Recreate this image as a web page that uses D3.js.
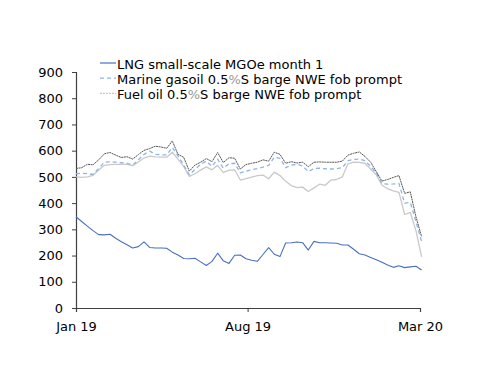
<!DOCTYPE html>
<html><head><meta charset="utf-8">
<script src="https://cdn.jsdelivr.net/npm/d3@7"></script>
<style>
body{margin:0;background:#fff;}
svg text{font-family:"DejaVu Sans",sans-serif;}
</style></head>
<body><svg id="c" width="500" height="386"></svg>
<script>
// weekly observations starting 1 Jan 2019
const startDate = "2019-01-01";
const seriesNames = ["LNG small-scale MGOe month 1","Marine gasoil 0.5%S barge NWE fob prompt","Fuel oil 0.5%S barge NWE fob prompt"];
const lng = [348,330,312,295,280,279,281,266,253,241,229,234,252,231,229,229,228,213,202,189,188,190,176,162,178,209,180,170,201,202,188,182,178,204,230,205,196,248,249,252,249,221,254,249,249,248,247,240,240,224,207,202,193,184,174,164,155,161,154,157,159,145];
const topLine = [532,535,548,546,565,588,593,583,574,577,568,585,601,608,617,614,609,637,586,575,522,545,556,570,558,593,555,573,571,530,547,552,556,565,560,594,586,552,558,553,556,539,556,557,556,556,556,560,583,590,595,578,556,520,484,490,498,505,437,443,348,272];
const marineGasoil = [512,514,512,510,532,556,557,556,554,552,545,565,586,598,586,584,584,612,580,545,508,528,548,560,540,568,533,550,552,515,522,527,532,537,544,575,571,535,545,548,542,520,532,533,531,530,531,535,562,567,568,562,540,515,475,472,473,475,400,403,330,253];
const fuelOil = [500,498,500,506,525,544,547,548,548,548,543,557,572,579,576,575,575,594,568,540,502,512,526,538,527,544,516,526,527,488,493,499,505,507,493,518,505,483,467,459,461,444,458,472,468,488,490,500,550,556,555,552,530,508,468,455,447,441,357,364,295,195];
const yTicks = [0,100,200,300,400,500,600,700,800,900];
const xTickDates = ["2019-01-01","2019-08-01","2020-03-01"];
const xTickLabels = ["Jan 19","Aug 19","Mar 20"];

const parse = d3.utcParse("%Y-%m-%d");
const t0 = parse(startDate);
const dates = lng.map((_, i) => d3.utcDay.offset(t0, 7 * i));

const svg = d3.select("#c");
const x = d3.scaleUtc().domain([parse("2019-01-01"), parse("2020-03-01")]).range([76, 420]);
const y = d3.scaleLinear().domain([0, 900]).range([308, 72]);

const axisColor = "#404040";
// y axis
const gy = svg.append("g").attr("transform", "translate(76,0)")
  .call(d3.axisLeft(y).tickValues(yTicks).tickSize(4).tickPadding(9).tickFormat(d3.format("d")));
// x axis
const gx = svg.append("g").attr("transform", "translate(0,308)")
  .call(d3.axisBottom(x).tickValues(xTickDates.map(parse)).tickSize(4).tickPadding(10)
    .tickFormat((d, i) => xTickLabels[i]));
[gy, gx].forEach(g => {
  g.select(".domain").attr("stroke", axisColor).attr("stroke-width", 1.2);
  g.selectAll(".tick line").attr("stroke", axisColor);
  g.selectAll("text").attr("fill", "#000").style("font-size", "13px");
});

const line = d3.line().x((d, i) => x(dates[i])).y(d => y(d));
const series = [
  {v: fuelOil, stroke: "#c9c9c9", w: 1.3, dash: null},
  {v: marineGasoil, stroke: "#8fb4e3", w: 1.3, dash: "4,3"},
  {v: topLine, stroke: "#555", w: 1, dash: "2,0.6"},
  {v: lng, stroke: "#4a6fbf", w: 1.1, dash: null}
];
series.forEach(s => {
  svg.append("path").attr("d", line(s.v)).attr("fill", "none")
    .attr("stroke", s.stroke).attr("stroke-width", s.w)
    .attr("stroke-dasharray", s.dash).attr("stroke-linejoin", "round");
});

// legend
const legendStyles = [
  {stroke: "#4a6fbf", dash: null},
  {stroke: "#8fb4e3", dash: "4,3"},
  {stroke: "#c9c9c9", dash: "2,1"}
];
seriesNames.forEach((name, i) => {
  const ly = 63 + i * 15.2;
  svg.append("line").attr("x1", 100).attr("x2", 116).attr("y1", ly).attr("y2", ly)
    .attr("stroke", legendStyles[i].stroke).attr("stroke-width", 1.2)
    .attr("stroke-dasharray", legendStyles[i].dash);
  const t = svg.append("text").attr("x", 117).attr("y", ly + 5.5).style("font-size", "13px").attr("fill", "#000");
  const parts = name.split("%");
  parts.forEach((p, j) => {
    if (j > 0) t.append("tspan").attr("fill", "#999").text("%");
    t.append("tspan").text(p);
  });
});
</script></body></html>
